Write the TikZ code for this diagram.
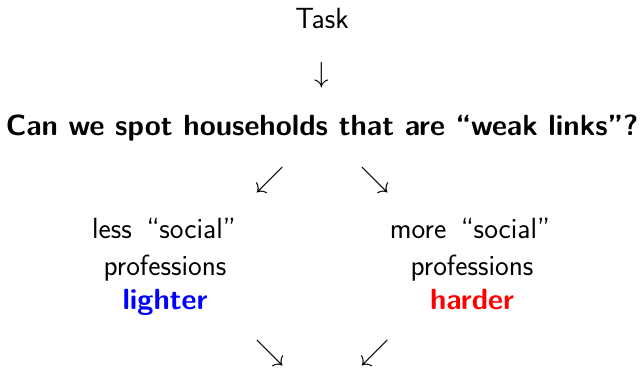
\RequirePackage{fix-cm}
\documentclass[tikz,border=0pt]{standalone}
\usepackage{xcolor}
\begin{document}
\begin{tikzpicture}[x=1pt,y=-1pt,
  txt/.style={font=\fontsize{29.2}{35}\selectfont\sffamily, anchor=base, inner sep=0pt, align=center},
  btxt/.style={txt, font=\fontsize{29.2}{35}\selectfont\sffamily\bfseries},
  glyph/.style={font=\fontsize{29.2}{35}\selectfont, anchor=base, inner sep=0pt}]
\useasboundingbox (0,0) rectangle (640,368);
% title and question
\node[txt] (task) at (322,28) {Task};
\node[glyph] (down) at (322,82.5) {$\downarrow$};
\node[btxt] (question) at (322,135) {Can we spot households that are ``weak links''?};
\node[glyph] (sw1) at (270,187) {$\swarrow$};
\node[glyph] (se1) at (375,187) {$\searrow$};
% the two branches
\node[txt] (lessA) at (164,238) {less\hspace{0.5em}``social''};
\node[txt] (lessB) at (165,275) {professions};
\node[btxt, text=blue] (lighter) at (165,309) {lighter};
\node[txt] (moreA) at (470,238) {more\hspace{0.5em}``social''};
\node[txt] (moreB) at (472,275) {professions};
\node[btxt, text=red] (harder) at (472,309) {harder};
% merging arrows
\node[glyph] (se2) at (270,360) {$\searrow$};
\node[glyph] (sw2) at (375,360) {$\swarrow$};
\end{tikzpicture}
\end{document}
